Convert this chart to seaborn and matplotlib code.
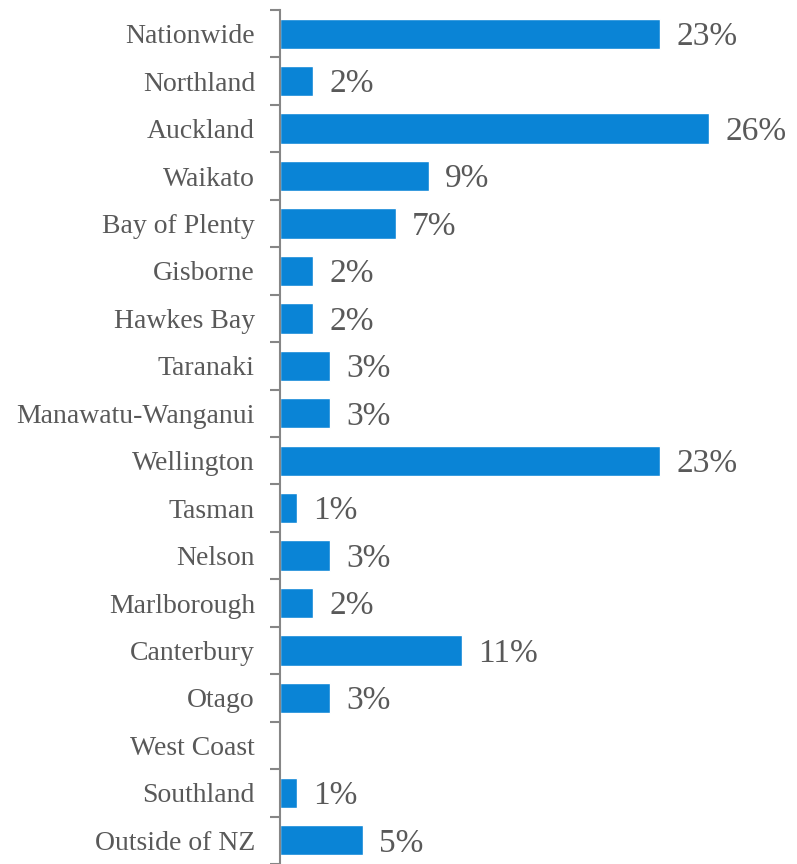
import numpy as np
import pandas as pd
import seaborn as sns
import matplotlib.pyplot as plt
import matplotlib.transforms as mtransforms
from matplotlib.ticker import FixedLocator

regions = ["Nationwide", "Northland", "Auckland", "Waikato", "Bay of Plenty",
           "Gisborne", "Hawkes Bay", "Taranaki", "Manawatu-Wanganui", "Wellington",
           "Tasman", "Nelson", "Marlborough", "Canterbury", "Otago", "West Coast",
           "Southland", "Outside of NZ"]
shares = [23, 2, 26, 9, 7, 2, 2, 3, 3, 23, 1, 3, 2, 11, 3, np.nan, 1, 5]

df = pd.DataFrame({"region": regions, "share": shares})

sns.set_theme(style="white")
plt.rcParams["font.family"] = ["Liberation Serif", "DejaVu Serif"]

fig = plt.figure(figsize=(7.97, 8.64), dpi=100)
ax = fig.add_axes([280 / 797, 0.0, 1 - 280 / 797, 1 - 10 / 864])

sns.barplot(data=df, y="region", x="share", orient="h", color="#0A84D6",
            saturation=1, width=0.64, ax=ax)

ax.set_xlim(0, 31.33)
ax.set_ylim(len(regions) - 0.5, -0.5)
ax.set_xlabel("")
ax.set_ylabel("")
ax.set_xticks([])

# nudge text slightly downward so it sits optically centred on the bars
shift = mtransforms.ScaledTranslation(0, -3 / 100, fig.dpi_scale_trans)

for i, v in enumerate(shares):
    if not np.isnan(v):
        ax.text(v + 1.0, i, f"{v:.0f}%", va="center", ha="left",
                fontsize=24, color="#595959",
                transform=ax.transData + shift)

ax.tick_params(axis="y", which="major", length=0, pad=18,
               labelsize=20, labelcolor="#595959")
for lbl in ax.get_yticklabels():
    lbl.set_va("center")
    lbl.set_transform(lbl.get_transform() + shift)
ax.yaxis.set_minor_locator(FixedLocator(np.arange(-0.5, len(regions), 1.0)))
ax.tick_params(axis="y", which="minor", length=7, width=1.5, color="#868686",
               left=True)

for side in ["top", "right", "bottom"]:
    ax.spines[side].set_visible(False)
ax.spines["left"].set_color("#868686")
ax.spines["left"].set_linewidth(1.5)

fig.savefig("out.png", dpi=100)
